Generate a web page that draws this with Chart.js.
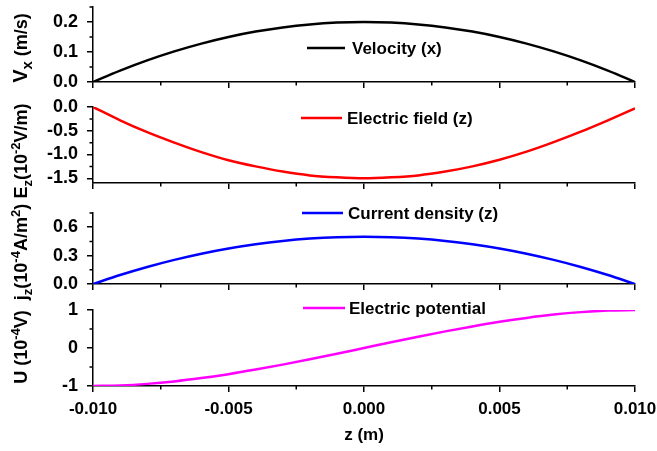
<!DOCTYPE html>
<html>
<head>
<meta charset="utf-8">
<script src="https://cdn.jsdelivr.net/npm/chart.js@4.4.1/dist/chart.umd.min.js"></script>
<style>
  html, body { margin: 0; padding: 0; background: #fff; }
  #wrap { position: relative; width: 657px; height: 451px; }
  #wrap canvas { position: absolute; left: 0; top: 0; }
</style>
</head>
<body>
<div id="wrap">
  <canvas id="c1" width="657" height="451"></canvas>
  <canvas id="c2" width="657" height="451"></canvas>
  <canvas id="c3" width="657" height="451"></canvas>
  <canvas id="c4" width="657" height="451"></canvas>
</div>
<script>
(function () {
    'use strict';

    // z positions (m)
    var zValues = [-0.010, -0.009, -0.008, -0.007, -0.006, -0.005, -0.004, -0.003, -0.002, -0.001, 0.000,
                   0.001, 0.002, 0.003, 0.004, 0.005, 0.006, 0.007, 0.008, 0.009, 0.010];

    // series
    var velocity = [0.000, 0.038, 0.072, 0.102, 0.128, 0.150, 0.168, 0.182, 0.192, 0.198, 0.200,
                    0.198, 0.192, 0.182, 0.168, 0.150, 0.128, 0.102, 0.072, 0.038, 0.000];
    var electricField = [0.00, -0.28, -0.53, -0.75, -0.95, -1.12, -1.25, -1.36, -1.44, -1.48, -1.50,
                         -1.48, -1.44, -1.36, -1.25, -1.11, -0.94, -0.74, -0.52, -0.28, -0.03];
    var currentDensity = [0.000, 0.095, 0.180, 0.255, 0.320, 0.375, 0.420, 0.455, 0.480, 0.495, 0.500,
                          0.495, 0.480, 0.455, 0.420, 0.375, 0.320, 0.255, 0.180, 0.095, 0.000];
    var potential = [-1.000, -0.986, -0.944, -0.879, -0.792, -0.688, -0.568, -0.437, -0.296, -0.150, 0.000,
                     0.150, 0.296, 0.437, 0.568, 0.688, 0.792, 0.879, 0.944, 0.986, 1.000];

    // tick values
    var xMinorTicks = [-0.0075, -0.0025, 0.0025, 0.0075];
    var yMinorTicks1 = [0.05, 0.15, 0.25];
    var yMinorTicks2 = [-0.25, -0.75, -1.25];
    var yMinorTicks3 = [0.15, 0.45, 0.75];
    var yMinorTicks4 = [-0.5, 0.5];

    var FONT = "'Liberation Sans', Arial, sans-serif";
    var H = 451;

    var panels = [
        {
            id: 'c1', data: velocity, color: '#000000', label: 'Velocity (x)',
            top: 7, bottom: 82, min: 0, max: 0.25, step: 0.1, minor: yMinorTicks1,
            fmt: function (v) { return v.toFixed(1); },
            legend: { x1: 307, x2: 345, y: 48, tx: 352 },
            title: { cy: 48, parts: [['V', 20, 0], ['x', 15, 5], [' (m/s)', 18, 0]] }
        },
        {
            id: 'c2', data: electricField, color: '#ff0000', label: 'Electric field (z)',
            top: 107, bottom: 183, min: -1.6, max: 0, step: 0.5, minor: yMinorTicks2,
            fmt: function (v) { return v.toFixed(1); },
            legend: { x1: 301, x2: 342, y: 118, tx: 347 },
            title: { cy: 151, parts: [['E', 18, 0], ['z', 13, 5], ['(10', 18, 0], ['-2', 13, -7], ['V/m)', 18, 0]] }
        },
        {
            id: 'c3', data: currentDensity, color: '#0000ff', label: 'Current density (z)',
            top: 213, bottom: 284, min: 0, max: 0.75, step: 0.3, minor: yMinorTicks3,
            fmt: function (v) { return v.toFixed(1); },
            legend: { x1: 302, x2: 343, y: 213, tx: 348 },
            title: { cy: 252, parts: [['j', 18, 0], ['z', 13, 5], ['(10', 18, 0], ['-4', 13, -7], ['A/m', 18, 0], ['2', 13, -7], [')', 18, 0]] }
        },
        {
            id: 'c4', data: potential, color: '#ff00ff', label: 'Electric potential',
            top: 310, bottom: 386, min: -1, max: 1, step: 1, minor: yMinorTicks4,
            fmt: function (v) { return String(v); },
            legend: { x1: 303, x2: 345, y: 308, tx: 349 },
            title: { cy: 347, parts: [['U (10', 18, 0], ['-4', 13, -7], ['V)', 18, 0]] },
            last: true
        }
    ];

    /**
     * Minor ticks, rotated y title with sub/superscripts and the inline legend.
     */
    var decorPlugin = {
        id: 'decor',
        afterDraw: function (chart) {
            var p = chart.options.plugins.decor;
            var ctx = chart.ctx;
            var xs = chart.scales.x, ys = chart.scales.y;
            var area = chart.chartArea;

            ctx.save();
            ctx.strokeStyle = '#000';
            ctx.lineWidth = 1.5;
            ctx.beginPath();
            p.minor.forEach(function (v) {
                var y = ys.getPixelForValue(v);
                ctx.moveTo(area.left, y);
                ctx.lineTo(area.left - 3.5, y);
            });
            xMinorTicks.forEach(function (v) {
                var x = xs.getPixelForValue(v);
                ctx.moveTo(x, area.bottom);
                ctx.lineTo(x, area.bottom + 3.5);
            });
            ctx.stroke();

            // legend
            ctx.strokeStyle = p.color;
            ctx.lineWidth = 2.5;
            ctx.beginPath();
            ctx.moveTo(p.legend.x1, p.legend.y);
            ctx.lineTo(p.legend.x2, p.legend.y);
            ctx.stroke();
            ctx.fillStyle = '#000';
            ctx.font = 'bold 17px ' + FONT;
            ctx.textBaseline = 'middle';
            ctx.textAlign = 'left';
            ctx.fillText(p.label, p.legend.tx, p.legend.y + 1);

            // y title
            var total = 0;
            p.title.parts.forEach(function (part) {
                ctx.font = 'bold ' + part[1] + 'px ' + FONT;
                total += ctx.measureText(part[0]).width;
            });
            ctx.translate(27, p.title.cy);
            ctx.rotate(-Math.PI / 2);
            ctx.textBaseline = 'alphabetic';
            var cx = -total / 2;
            p.title.parts.forEach(function (part) {
                ctx.font = 'bold ' + part[1] + 'px ' + FONT;
                ctx.fillText(part[0], cx, part[2]);
                cx += ctx.measureText(part[0]).width;
            });
            ctx.restore();
        }
    };

    function buildChart(p) {
        var xh = p.last ? 60 : 8;
        var points = zValues.map(function (z, i) { return { x: z, y: p.data[i] }; });

        new Chart(document.getElementById(p.id), {
            type: 'line',
            data: {
                datasets: [{
                    data: points,
                    borderColor: p.color,
                    borderWidth: 2.5,
                    pointRadius: 0,
                    cubicInterpolationMode: 'monotone',
                    fill: false
                }]
            },
            options: {
                responsive: false,
                animation: false,
                devicePixelRatio: 1,
                layout: { padding: { left: 0, right: 22, top: p.top, bottom: H - p.bottom - xh } },
                plugins: {
                    legend: { display: false },
                    tooltip: { enabled: false },
                    decor: { minor: p.minor, color: p.color, label: p.label, legend: p.legend, title: p.title }
                },
                scales: {
                    x: {
                        type: 'linear',
                        min: -0.01,
                        max: 0.01,
                        border: { display: true, color: '#000', width: 1.5 },
                        grid: { drawOnChartArea: false, drawTicks: true, tickLength: 6, color: '#000', lineWidth: 1.5 },
                        ticks: {
                            display: !!p.last,
                            stepSize: 0.005,
                            autoSkip: false,
                            maxRotation: 0,
                            padding: 7,
                            color: '#000',
                            font: { family: FONT, size: 17, weight: 'bold' },
                            callback: function (v) { return v.toFixed(3); }
                        },
                        title: {
                            display: !!p.last,
                            text: 'z (m)',
                            color: '#000',
                            padding: 0,
                            font: { family: FONT, size: 17, weight: 'bold' }
                        },
                        afterFit: function (s) {
                            s.height = xh;
                            s.paddingLeft = 0;
                            s.paddingRight = 0;
                        }
                    },
                    y: {
                        min: p.min,
                        max: p.max,
                        border: { display: true, color: '#000', width: 1.5 },
                        grid: { drawOnChartArea: false, drawTicks: true, tickLength: 6, color: '#000', lineWidth: 1.5 },
                        ticks: {
                            stepSize: p.step,
                            includeBounds: false,
                            padding: 9,
                            color: '#000',
                            font: { family: FONT, size: 18, weight: 'bold' },
                            callback: p.fmt
                        },
                        afterFit: function (s) {
                            s.width = 93;
                            s.paddingTop = 0;
                            s.paddingBottom = 0;
                        }
                    }
                }
            },
            plugins: [decorPlugin]
        });
    }

    panels.forEach(buildChart);
})();
</script>
</body>
</html>
